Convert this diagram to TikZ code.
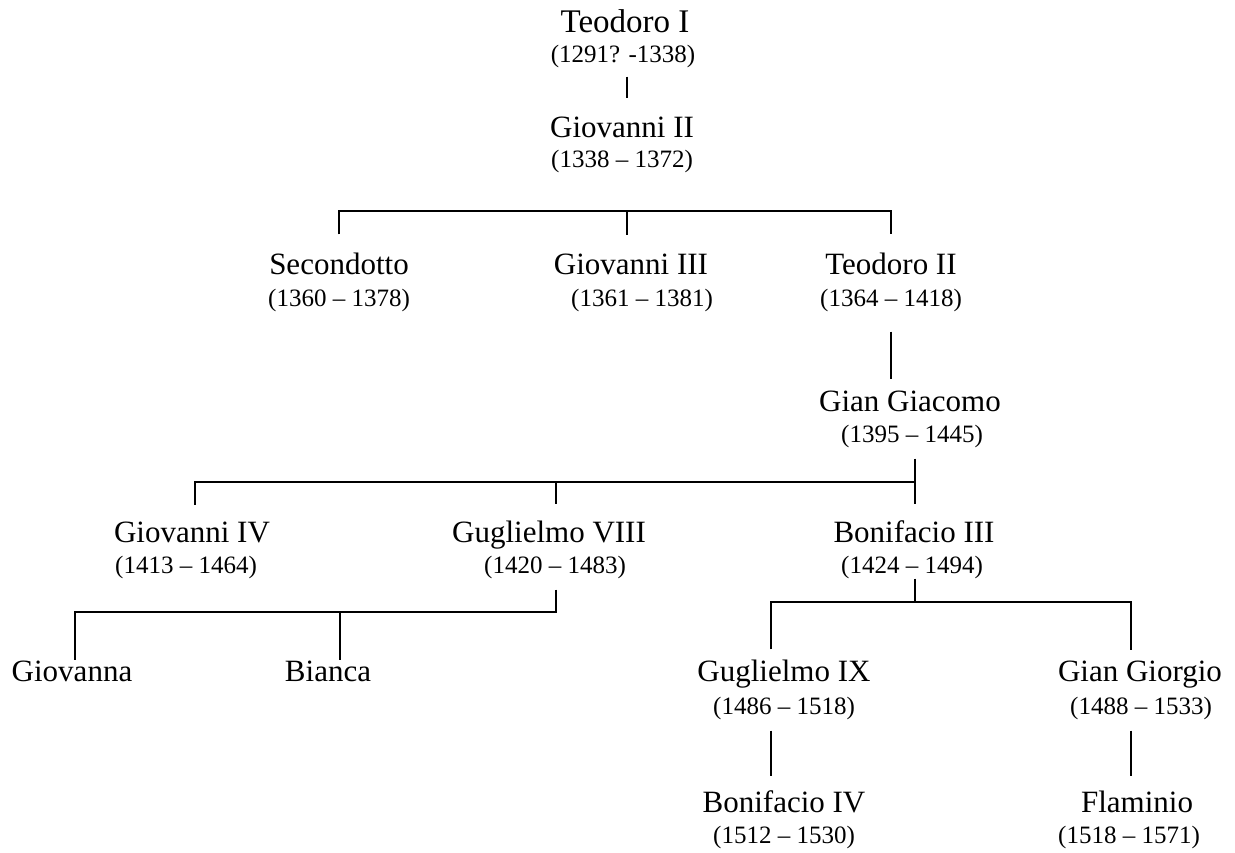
\documentclass[tikz,border=0pt]{standalone}
\usepackage{fontspec}
\setmainfont{Liberation Serif}
\usepackage{tikz}
\usetikzlibrary{positioning,calc}

\newcommand{\persfont}{\fontsize{31}{33}\selectfont}
\newcommand{\yearfont}{\fontsize{25}{28}\selectfont}

\begin{document}
\begin{tikzpicture}[x=1pt,y=-1pt]
    \tikzstyle{person}=[inner sep=0pt, anchor=base, font=\persfont, text=black]
    \tikzstyle{years}=[inner sep=0pt, anchor=base, font=\yearfont, text=black]
    \tikzset{treeline/.style={line width=1.7pt, black}}

    \useasboundingbox (0,0) rectangle (1235,853);

    % generation 1-2
    \node[person, font=\fontsize{33}{35}\selectfont] (teoI) at (625,33) {Teodoro I};
    \node[years] (teoIy) at (623,63) {(1291? -1338)};
    \node[person] (gioII)  at (622,138) {Giovanni II};
    \node[years]  (gioIIy) at (622,168) {(1338 -- 1372)};

    % generation 3
    \node[person] (secondotto)  at (339,275) {Secondotto};
    \node[years]  (secondottoy) at (339,306) {(1360 -- 1378)};
    \node[person] (gioIII)  at (631,275) {Giovanni III};
    \node[years]  (gioIIIy) at (642,306) {(1361 -- 1381)};
    \node[person] (teoII)  at (891,275) {Teodoro II};
    \node[years]  (teoIIy) at (891,306) {(1364 -- 1418)};

    % generation 4
    \node[person] (gianGiac)  at (910,411) {Gian Giacomo};
    \node[years]  (gianGiacy) at (912,442) {(1395 -- 1445)};

    % generation 5
    \node[person] (gioIV)  at (192,542) {Giovanni IV};
    \node[years]  (gioIVy) at (186,573) {(1413 -- 1464)};
    \node[person] (gugVIII)  at (549,542) {Guglielmo VIII};
    \node[years]  (gugVIIIy) at (555,573) {(1420 -- 1483)};
    \node[person] (bonIII)  at (914,542) {Bonifacio III};
    \node[years]  (bonIIIy) at (912,573) {(1424 -- 1494)};

    % generation 6
    \node[person] (giovanna) at (72,681)  {Giovanna};
    \node[person] (bianca)   at (328,681) {Bianca};
    \node[person] (gugIX)  at (784,681) {Guglielmo IX};
    \node[years]  (gugIXy) at (784,714) {(1486 -- 1518)};
    \node[person] (gianGior)  at (1140,681) {Gian Giorgio};
    \node[years]  (gianGiory) at (1141,714) {(1488 -- 1533)};

    % generation 7
    \node[person] (bonIV)  at (784,812) {Bonifacio IV};
    \node[years]  (bonIVy) at (784,843) {(1512 -- 1530)};
    \node[person] (flaminio)  at (1137,812) {Flaminio};
    \node[years]  (flaminioy) at (1129,843) {(1518 -- 1571)};

    % bars
    \coordinate (bar1) at (627,211);
    \coordinate (bar2) at (915,482);
    \coordinate (bar3) at (556,612);
    \coordinate (bar4) at (915,602);

    \draw[treeline, shorten <=8pt, shorten >=19pt]
        ($(teoIy.south)+(4,0)$) -- ($(gioII.north)+(5,0)$);
    \draw[treeline, shorten <=19pt, shorten >=19pt]
        (secondotto.north) |- (bar1) -| (teoII.north);
    \draw[treeline, shorten >=19pt] (bar1) -- (bar1 |- gioIII.north);
    \draw[treeline, shorten <=20pt, shorten >=11pt]
        (teoIIy.south) -- (teoIIy.south |- gianGiac.north);
    \draw[treeline, shorten <=11pt, shorten >=16pt]
        (gianGiacy.south -| bar2) -- (bar2 |- bonIII.north);
    \draw[treeline, shorten >=16pt]
        (bar2) -| (gioIV.north -| 195,0) ;
    \draw[treeline, shorten >=16pt]
        (bar2 -| gugVIII.north) ++(7,0) coordinate (gugVIIIdrop) -- (gugVIIIdrop |- gugVIII.north);
    \draw[treeline, shorten <=11pt]
        (gugVIIIy.south -| bar3) -- (bar3) -| (giovanna.north -| 75,0);
    \draw[treeline]
        (bar3 -| bianca.north) ++(12,0) coordinate (biancadrop) -- (biancadrop |- giovanna.north);
    \draw[treeline]
        (bonIIIy.south -| bar4) -- (bar4);
    \draw[treeline, shorten <=10pt, shorten >=10pt]
        (gugIX.north -| 771,0) |- (bar4) -| (gianGior.north -| 1131,0);
    \draw[treeline, shorten <=11pt, shorten >=14pt]
        (gugIXy.south -| 771,0) -- (bonIV.north -| 771,0);
    \draw[treeline, shorten <=11pt, shorten >=14pt]
        (gianGiory.south -| 1131,0) -- (flaminio.north -| 1131,0);
\end{tikzpicture}
\end{document}
